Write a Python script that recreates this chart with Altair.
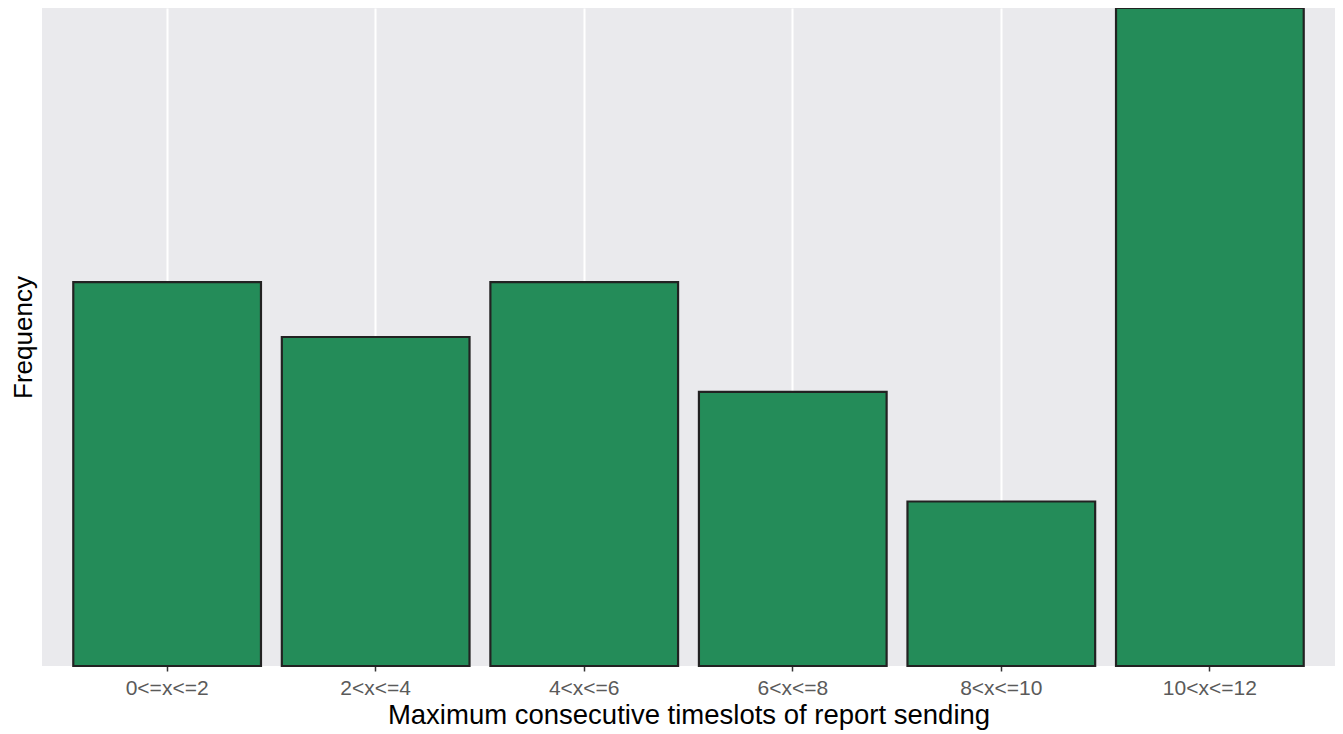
import altair as alt
import pandas as pd

categories = ["0<=x<=2", "2<x<=4", "4<x<=6", "6<x<=8", "8<x<=10", "10<x<=12"]
frequency = [7, 6, 7, 5, 3, 12]

df = pd.DataFrame({"bin": categories, "freq": frequency})

chart = alt.Chart(df).mark_bar(
    color="#248C59", stroke="#222222", strokeWidth=2.2
).encode(
    x=alt.X("bin:N", sort=categories,
            scale=alt.Scale(paddingInner=0.1, paddingOuter=0.15),
            axis=alt.Axis(title="Maximum consecutive timeslots of report sending",
                          labelAngle=0, bandPosition=0.5, grid=True,
                          gridColor="white", gridWidth=2,
                          domain=False, tickColor="#333333", tickSize=5, tickWidth=1.5,
                          labelColor="#5A5A5A", labelFontSize=21, labelPadding=6,
                          titleFontSize=27.5, titleColor="#000000", titleFontWeight="normal",
                          titlePadding=3, labelFont="Liberation Sans", titleFont="Liberation Sans")),
    y=alt.Y("freq:Q", scale=alt.Scale(domain=[0, 12], nice=False),
            axis=alt.Axis(title="Frequency", labels=False, ticks=False, domain=False,
                          grid=False, titleFontSize=26, titleColor="#000000",
                          titleFontWeight="normal", titlePadding=6,
                          titleFont="Liberation Sans")),
).properties(
    width=1293, height=658,
    autosize=alt.AutoSizeParams(type="none"),
    padding={"left": 34, "top": 0, "right": 0, "bottom": 64},
).configure_view(
    fill="#EAEAED", stroke=None
)

chart.save("out.html", embed_options={"renderer": "svg", "actions": False})
